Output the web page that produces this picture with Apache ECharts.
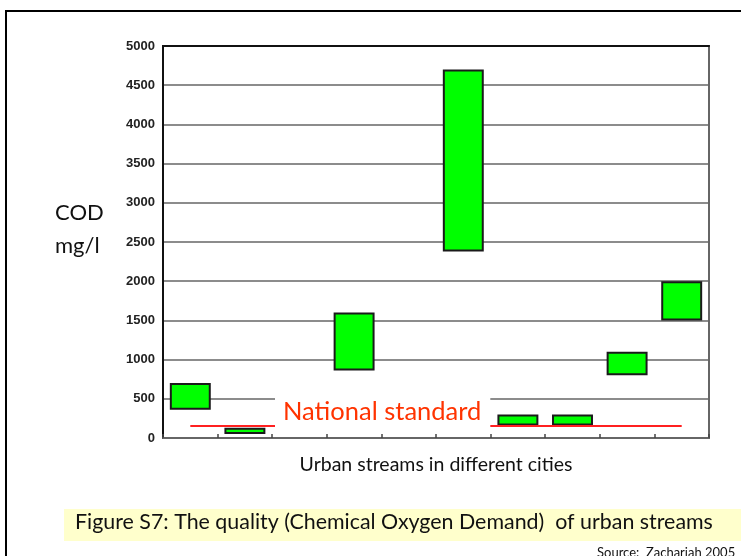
<!DOCTYPE html>
<html>
<head>
<meta charset="utf-8">
<script src="https://cdn.jsdelivr.net/npm/echarts@6/dist/echarts.min.js"></script>
<style>
  html, body { margin: 0; padding: 0; background: #fff; }
  #chart { width: 741px; height: 556px; }
</style>
</head>
<body>
<div id="chart"></div>
<script>
// streams (one per city), COD range in mg/l
const cities = ['1', '2', '3', '4', '5', '6', '7', '8', '9', '10'];
const codLow = [360, 50, null, 860, null, 2380, 160, 160, 800, 1500];
const codHigh = [700, 130, null, 1600, null, 4700, 300, 300, 1100, 2000];
const nationalStandard = 150;
const yTicks = [0, 500, 1000, 1500, 2000, 2500, 3000, 3500, 4000, 4500, 5000];

const FONT = 'Lato';
const chart = echarts.init(document.getElementById('chart'));

// height of each floating bar on top of the invisible base
const codSpan = codHigh.map((h, i) => (h == null ? '-' : h - codLow[i]));
const codBase = codLow.map(v => (v == null ? '-' : v));

chart.setOption({
  backgroundColor: '#fff',
  animation: false,
  textStyle: { fontFamily: FONT },
  grid: {
    left: 163, right: 32, top: 46, bottom: 118,
    show: true, borderColor: '#666', borderWidth: 2
  },
  xAxis: [{
    type: 'category',
    data: cities,
    name: 'Urban streams in different cities',
    nameLocation: 'middle',
    nameGap: 17,
    nameTextStyle: { fontFamily: FONT, fontSize: 19.5, color: '#111', verticalAlign: 'top' },
    axisLine: { lineStyle: { color: '#666', width: 2 } },
    axisTick: { show: true, inside: true, length: 4, lineStyle: { color: '#444', width: 1.5 } },
    axisLabel: { show: false },
    splitLine: { show: false }
  }, {
    type: 'category',
    data: cities,
    position: 'top',
    axisLine: { lineStyle: { color: '#111', width: 2 } },
    axisTick: { show: false },
    axisLabel: { show: false }
  }],
  yAxis: {
    type: 'value',
    min: 0, max: 5000, interval: 500,
    axisLine: { show: true, lineStyle: { color: '#111', width: 2 } },
    axisTick: { show: false },
    axisLabel: {
      margin: 8, fontFamily: 'Liberation Sans', fontWeight: 'bold',
      fontSize: 13, color: '#222',
      formatter: v => (yTicks.includes(v) ? String(v) : '')
    },
    splitLine: { show: true, lineStyle: { color: '#666', width: 1.5 } }
  },
  series: [{
    name: 'base',
    type: 'bar',
    stack: 'cod',
    data: codBase,
    barWidth: '75%',
    itemStyle: { color: 'transparent' },
    silent: true
  }, {
    name: 'COD',
    type: 'bar',
    stack: 'cod',
    data: codSpan,
    barWidth: '75%',
    itemStyle: { color: '#00ff00', borderColor: '#1a1a1a', borderWidth: 2 },
    markLine: {
      symbol: 'none',
      silent: true,
      label: { show: false },
      lineStyle: { color: '#ff2020', width: 2, type: 'solid' },
      data: [[{ coord: [0, nationalStandard] }, { coord: [9, nationalStandard] }]]
    }
  }],
  graphic: [
    // page frame
    { type: 'line', shape: { x1: 6, y1: 11, x2: 741, y2: 11 }, style: { stroke: '#000', lineWidth: 2 } },
    { type: 'line', shape: { x1: 6, y1: 10, x2: 6, y2: 556 }, style: { stroke: '#000', lineWidth: 2 } },
    // y axis title
    {
      type: 'text', left: 55, top: 196, z: 10,
      style: { text: 'COD\nmg/l', font: '22px ' + FONT, fill: '#111', lineHeight: 33 }
    },
    // standard label over the line
    {
      type: 'text', left: 275, top: 395, z: 10,
      style: {
        text: 'National standard', font: '25.5px ' + FONT, fill: '#ff3300',
        backgroundColor: '#fff', padding: [4, 9, 4, 8]
      }
    },
    // caption box
    { type: 'rect', shape: { x: 64, y: 509, width: 677, height: 32 }, style: { fill: '#ffffcc' } },
    {
      type: 'text', left: 75, top: 512, z: 10,
      style: { text: 'Figure S7: The quality (Chemical Oxygen Demand)  of urban streams', font: '21.4px ' + FONT, fill: '#111' }
    },
    {
      type: 'text', left: 597, top: 546, z: 10,
      style: { text: 'Source:  Zachariah 2005', font: '13px ' + FONT, fill: '#111' }
    }
  ]
});
</script>
</body>
</html>
